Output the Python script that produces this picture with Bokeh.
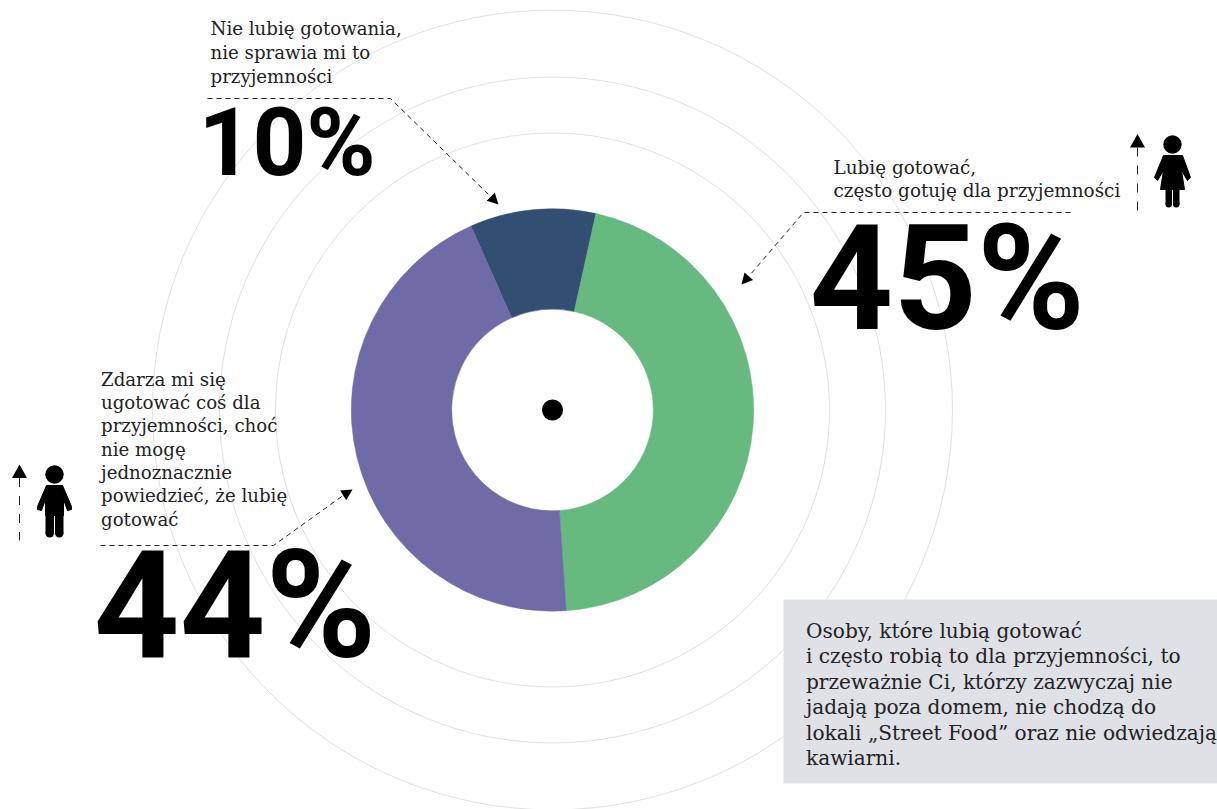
import math
from bokeh.plotting import figure
from bokeh.models import Range1d, ColumnDataSource
from bokeh.core.properties import value
from bokeh.embed import file_html
from bokeh.resources import INLINE

# Survey shares, clockwise from the navy slice
categories = ["Nie lubię gotowania", "Lubię gotować", "Zdarza mi się ugotować"]
shares = [10, 45, 44]
slice_colors = ["#324f73", "#66b97f", "#6f6ba6"]

note_dislike = ["Nie lubię gotowania,", "nie sprawia mi to", "przyjemności"]
note_like = ["Lubię gotować,", "często gotuję dla przyjemności"]
note_sometimes = ["Zdarza mi się", "ugotować coś dla", "przyjemności, choć", "nie mogę",
                  "jednoznacznie", "powiedzieć, że lubię", "gotować"]
note_box = ["Osoby, które lubią gotować", "i często robią to dla przyjemności, to",
            "przeważnie Ci, którzy zazwyczaj nie", "jadają poza domem, nie chodzą do",
            "lokali „Street Food” oraz nie odwiedzają", "kawiarni."]

W, H = 1217, 809
CX, CY = 552, 409.5
SERIF = "DejaVu Serif"
SANS = "Roboto"
INK = "#222222"
BASELINE_SHIFT = 0.4  # the SVG text baseline sits this fraction of the size below the anchor


def Y(py):
    """Screen row to the upward data axis."""
    return H - py


p = figure(width=W, height=H, output_backend="svg", toolbar_location=None,
           x_range=Range1d(0, W), y_range=Range1d(0, H), min_border=0)
p.axis.visible = False
p.grid.visible = False
p.outline_line_color = None
p.background_fill_color = "white"
p.border_fill_color = "white"

# Concentric guide rings behind everything
for r in (277, 333, 400):
    p.circle(x=[CX], y=[Y(CY)], radius=r, fill_color=None, line_color="#e0e0e0", line_width=1)

# Note panel
p.quad(left=[783], right=[W], top=[Y(599)], bottom=[Y(783)], fill_color="#e0e1e6", line_color=None)

# Donut slices: angles go clockwise from the top edge of the navy slice
total = sum(shares)
start_compass = -23.9
starts, ends = [], []
run = start_compass
for s in shares:
    sweep = s / total * 360
    starts.append(math.radians(90 - run - sweep))
    ends.append(math.radians(90 - run))
    run += sweep
src = ColumnDataSource(dict(start=starts, end=ends, color=slice_colors, name=categories))
p.annular_wedge(x=CX, y=Y(CY), inner_radius=100.8, outer_radius=201.2, start_angle="start",
                end_angle="end", fill_color="color", line_color="color", line_width=0.5, source=src)
p.circle(x=[CX], y=[Y(CY)], radius=10.5, fill_color="black", line_color=None)


def callout(pts, tip, size=11):
    xs = [q[0] for q in pts]
    ys = [Y(q[1]) for q in pts]
    p.line(xs, ys, line_color="#222222", line_width=1, line_dash="5 4")
    ax, ay = pts[-1]
    d = math.hypot(tip[0] - ax, tip[1] - ay)
    ux, uy = (tip[0] - ax) / d, (tip[1] - ay) / d
    bx, by = tip[0] - ux * size, tip[1] - uy * size
    hw = size * 0.52
    p.patch([tip[0], bx - uy * hw, bx + uy * hw],
            [Y(tip[1]), Y(by + ux * hw), Y(by - ux * hw)], fill_color="black", line_color=None)


callout([(207, 98), (390, 98), (490, 196)], (498, 204))
callout([(1070, 212), (803, 212), (749, 275)], (741, 284))
callout([(100, 545), (273, 545), (344, 494)], (352, 489))


def text_block(lines, x, first, step, size):
    shift = BASELINE_SHIFT * size
    p.text(x=[x] * len(lines), y=[Y(first + i * step - shift) for i in range(len(lines))], text=lines,
           text_font=value(SERIF), text_font_size=f"{size}px", text_color=INK,
           text_align="left", text_baseline="alphabetic")


text_block(note_dislike, 210, 35.5, 23.8, 18.2)
text_block(note_like, 833, 174, 23.3, 18.4)
text_block(note_sometimes, 100.5, 386, 23.3, 18.2)
text_block(note_box, 805.5, 638.5, 25.5, 20.1)


def big(label, x, base, size):
    p.text(x=[x], y=[Y(base - BASELINE_SHIFT * size)], text=[label], text_font=value(SANS), text_font_style="bold",
           text_font_size=f"{size}px", text_color="black", text_align="left",
           text_baseline="alphabetic")


big("10%", 198, 180, 94)
big("45%", 809, 337.5, 146)
big("44%", 93, 665.5, 150)


def up_arrow(x, tip, bottom):
    p.patch([x, x - 7.5, x + 7.5], [Y(tip), Y(tip + 13.5), Y(tip + 13.5)], fill_color="black", line_color=None)
    p.line([x, x], [Y(tip + 13.5), Y(bottom)], line_color="#222222", line_width=1, line_dash="9 9")


def pill(xa, xb, ya, yb):
    """Vertical limb with rounded ends."""
    w = xb - xa
    p.quad(left=[xa], right=[xb], top=[Y(ya)], bottom=[Y(yb - w / 2)], fill_color="black", line_color=None)
    p.circle(x=[(xa + xb) / 2], y=[Y(yb - w / 2)], radius=w / 2, fill_color="black", line_color=None)


# Woman pictogram
up_arrow(1137, 133.5, 210)
p.circle(x=[1172], y=[Y(144)], radius=9.2, fill_color="black", line_color=None)
woman_x = [1163, 1182, 1190, 1187, 1181, 1184, 1160, 1163, 1157, 1154]
woman_y = [155, 155, 177, 180, 170, 189, 189, 170, 180, 177]
p.patch(woman_x, [Y(v) for v in woman_y], fill_color="black", line_color="black", line_width=1, line_join="round")
pill(1165, 1171.5, 188, 207)
pill(1172.5, 1179, 188, 207)

# Man pictogram
up_arrow(19, 464, 540)
p.circle(x=[54], y=[Y(474)], radius=9.2, fill_color="black", line_color=None)
man_x = [46, 62, 71, 71, 67, 63, 63, 45, 45, 41, 37, 37]
man_y = [485, 485, 506, 509, 510, 499, 515, 515, 499, 510, 509, 506]
p.patch(man_x, [Y(v) for v in man_y], fill_color="black", line_color="black", line_width=1, line_join="round")
pill(45, 53.5, 512, 537)
pill(54.5, 63, 512, 537)

open("out.html", "w").write(file_html(p, INLINE))
